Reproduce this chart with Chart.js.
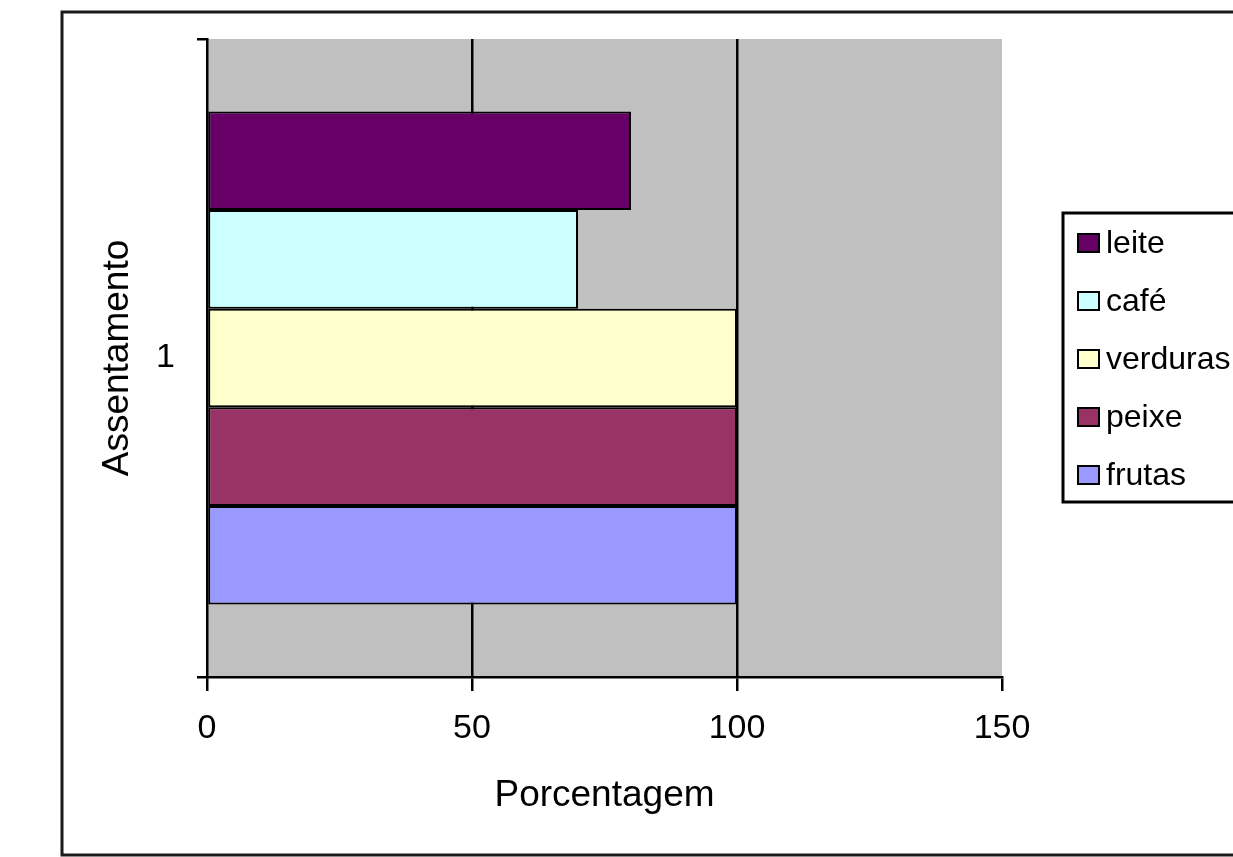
<!DOCTYPE html>
<html>
<head>
<meta charset="utf-8">
<script src="https://cdn.jsdelivr.net/npm/chart.js@4.4.1/dist/chart.umd.min.js"></script>
<style>
  html, body { margin: 0; padding: 0; background: #ffffff; }
  #wrap { width: 1233px; height: 857px; }
</style>
</head>
<body>
<div id="wrap"><canvas id="c" width="1233" height="857"></canvas></div>
<script>
// ---- data ----
const categories = ['1'];
const seriesNames = ['leite', 'café', 'verduras', 'peixe', 'frutas'];
const leite = [80];
const cafe = [70];
const verduras = [100];
const peixe = [100];
const frutas = [100];
const xTickValues = [0, 50, 100, 150];
const seriesColors = ['#660066', '#CCFFFF', '#FFFFCC', '#993366', '#9999FF'];
const xTitle = 'Porcentagem';
const yTitle = 'Assentamento';

const seriesValues = [leite, cafe, verduras, peixe, frutas];
const datasets = seriesNames.map((name, i) => ({
  label: name,
  data: seriesValues[i],
  backgroundColor: seriesColors[i],
  borderColor: '#000000',
  borderWidth: 2,
  borderSkipped: false,
  categoryPercentage: 0.773,
  barPercentage: 1.0
}));

const TICK_FONT = { family: "'Liberation Sans', Arial, sans-serif", size: 34, lineHeight: 1 };
const TITLE_FONT = { family: "'Liberation Sans', Arial, sans-serif", size: 37, lineHeight: 1 };

const framePlugin = {
  id: 'frame',
  beforeDraw(chart) {
    const ctx = chart.ctx;
    const a = chart.chartArea;
    ctx.save();
    ctx.fillStyle = '#ffffff';
    ctx.fillRect(0, 0, chart.width, chart.height);
    // outer chart border
    ctx.strokeStyle = '#1a1a1a';
    ctx.lineWidth = 3;
    ctx.strokeRect(62, 12, 1200, 843);
    // plot area
    ctx.fillStyle = '#C0C0C0';
    ctx.fillRect(a.left, a.top, a.right - a.left, a.bottom - a.top);
    ctx.restore();
  },
  afterDraw(chart) {
    const ctx = chart.ctx;
    ctx.save();
    // legend box
    ctx.strokeStyle = '#000000';
    ctx.lineWidth = 3;
    ctx.strokeRect(1063, 213, 200, 289);
    const ds = chart.data.datasets;
    ctx.font = "32px 'Liberation Sans', Arial, sans-serif";
    ctx.textBaseline = 'middle';
    ctx.textAlign = 'left';
    ds.forEach((d, i) => {
      const cy = 243 + i * 58;
      ctx.fillStyle = d.backgroundColor;
      ctx.fillRect(1078, cy - 9, 21, 18);
      ctx.lineWidth = 2;
      ctx.strokeStyle = '#000000';
      ctx.strokeRect(1078, cy - 9, 21, 18);
      ctx.fillStyle = '#000000';
      ctx.fillText(d.label, 1106, cy + 1);
    });
    ctx.restore();
  }
};

new Chart(document.getElementById('c'), {
  type: 'bar',
  data: { labels: categories, datasets: datasets },
  options: {
    indexAxis: 'y',
    responsive: false,
    animation: false,
    devicePixelRatio: 1,
    layout: { padding: { left: 0, top: 35, right: 231, bottom: 0 } },
    plugins: {
      legend: { display: false },
      tooltip: { enabled: false },
      title: { display: false }
    },
    scales: {
      x: {
        type: 'linear',
        min: 0,
        max: 150,
        afterBuildTicks(scale) { scale.ticks = xTickValues.map(v => ({ value: v })); },
        afterFit(scale) { scale.height = 180; },
        ticks: { color: '#000000', font: TICK_FONT, padding: 21, maxRotation: 0 },
        grid: {
          color: (ctx) => (ctx.tick && (ctx.tick.value === 50 || ctx.tick.value === 100)) ? '#000000' : 'rgba(0,0,0,0)',
          lineWidth: 2.5,
          tickColor: '#000000',
          tickLength: 14,
          drawTicks: true
        },
        border: { display: true, color: '#000000', width: 2.5 },
        title: {
          display: true,
          text: xTitle,
          color: '#000000',
          font: TITLE_FONT,
          padding: { top: 0, bottom: 43 }
        }
      },
      y: {
        type: 'category',
        afterFit(scale) { scale.width = 207; },
        ticks: { color: '#000000', font: TICK_FONT, padding: 22 },
        grid: {
          offset: true,
          drawOnChartArea: false,
          drawTicks: true,
          tickLength: 10,
          tickColor: '#000000',
          lineWidth: 2.5
        },
        border: { display: true, color: '#000000', width: 2.5 },
        title: {
          display: true,
          text: yTitle,
          color: '#000000',
          font: TITLE_FONT,
          padding: { top: 99, bottom: 0 }
        }
      }
    }
  },
  plugins: [framePlugin]
});
</script>
</body>
</html>
